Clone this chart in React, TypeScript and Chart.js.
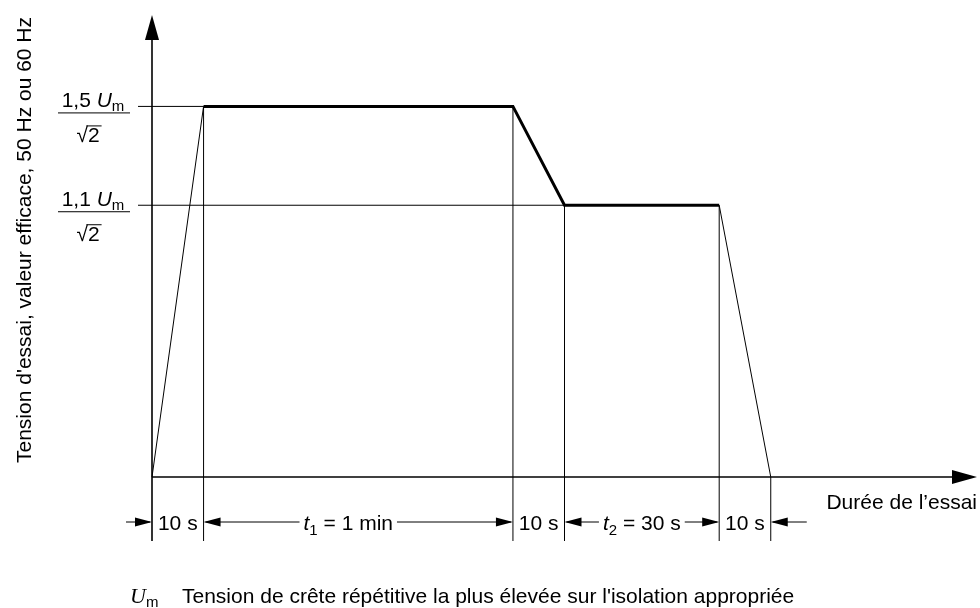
import React, { useEffect, useRef } from "react";
import { Chart, registerables } from "chart.js";

Chart.register(...registerables);

// ---- data (diagram positions in seconds, levels as multiples of Um/√2) ----
const times = [0, 10, 70, 80, 110, 120];
const levels = [0, 1.5, 1.5, 1.1, 1.1, 0];
const levelTicks = [1.5, 1.1];
const levelTickLabels = ["1,5", "1,1"];
const spanVar = ["", "t", "", "t", ""];
const spanSub = ["", "1", "", "2", ""];
const spanText = ["10 s", " = 1 min", "10 s", " = 30 s", "10 s"];
const yAxisTitle = "Tension d'essai, valeur efficace, 50 Hz ou 60 Hz";
const xAxisTitle = "Durée de l\u2019essai";
const footnoteSymbol = "U";
const footnoteSub = "m";
const footnoteText = "Tension de crête répétitive la plus élevée sur l'isolation appropriée";

const SANS = '"Liberation Sans", Arial, Helvetica, sans-serif';
const SERIF = '"Liberation Serif", "Times New Roman", serif';

type Run = { text: string; font: string; dy?: number };

function drawRuns(ctx: CanvasRenderingContext2D, runs: Run[], x: number, y: number, align: "left" | "center" | "right") {
  let total = 0;
  const widths = runs.map((r) => {
    ctx.font = r.font;
    const w = ctx.measureText(r.text).width;
    total += w;
    return w;
  });
  let cx = align === "left" ? x : align === "center" ? x - total / 2 : x - total;
  const start = cx;
  ctx.textAlign = "left";
  ctx.textBaseline = "alphabetic";
  runs.forEach((r, i) => {
    ctx.font = r.font;
    ctx.fillText(r.text, cx, y + (r.dy || 0));
    cx += widths[i];
  });
  return { start, end: cx, widths };
}

function line(ctx: CanvasRenderingContext2D, x1: number, y1: number, x2: number, y2: number) {
  ctx.beginPath();
  ctx.moveTo(x1, y1);
  ctx.lineTo(x2, y2);
  ctx.stroke();
}

function arrowhead(ctx: CanvasRenderingContext2D, tx: number, ty: number, dx: number, dy: number, len: number, hw: number) {
  const bx = tx - dx * len;
  const by = ty - dy * len;
  const px = -dy, py = dx;
  ctx.beginPath();
  ctx.moveTo(tx, ty);
  ctx.lineTo(bx + px * hw, by + py * hw);
  ctx.lineTo(bx - px * hw, by - py * hw);
  ctx.closePath();
  ctx.fill();
}

const spanTextShift = [0, -10, 0, 0, 0];

const diagramPlugin = {
  id: "diagram",
  afterDraw(chart: any) {
    const ctx: CanvasRenderingContext2D = chart.ctx;
    const xs = chart.scales.x;
    const ys = chart.scales.y;
    const X = (v: number) => xs.getPixelForValue(v);
    const Y = (v: number) => ys.getPixelForValue(v);
    const area = chart.chartArea;
    const x0 = X(0);
    const yBase = Y(0);
    const dimY = yBase + 45;
    const extBottom = yBase + 64;

    ctx.save();
    ctx.strokeStyle = "#000";
    ctx.fillStyle = "#000";

    // axes with arrows
    ctx.lineWidth = 1.6;
    line(ctx, x0, extBottom, x0, area.top + 22);
    arrowhead(ctx, x0, area.top, 0, -1, 25, 7);
    line(ctx, x0, yBase, area.right - 22, yBase);
    arrowhead(ctx, area.right, yBase, 1, 0, 25, 7);

    // reference lines for levels
    ctx.lineWidth = 1;
    levelTicks.forEach((lv) => {
      const idx = levels.findIndex((l) => l === lv);
      line(ctx, x0 - 14, Y(lv), X(times[idx]), Y(lv));
    });

    // vertical extension lines
    times.forEach((t, i) => {
      if (i === 0) return;
      line(ctx, X(t), Y(levels[i]), X(t), extBottom);
    });

    // dimension row
    const AL = 17, AW = 4.5;
    const textFont = `21px ${SANS}`;
    const italFont = `italic 21px ${SANS}`;
    const subFont = `15px ${SANS}`;
    for (let i = 0; i < times.length - 1; i++) {
      const a = X(times[i]);
      const b = X(times[i + 1]);
      const runs: Run[] = [];
      if (spanVar[i]) runs.push({ text: spanVar[i], font: italFont });
      if (spanSub[i]) runs.push({ text: spanSub[i], font: subFont, dy: 5 });
      runs.push({ text: spanText[i], font: textFont });
      const r = drawRuns(ctx, runs, (a + b) / 2 + spanTextShift[i], dimY + 7.5, "center");
      if (spanVar[i]) {
        line(ctx, a + 2, dimY, r.start - 4, dimY);
        line(ctx, r.end + 4, dimY, b - 2, dimY);
        arrowhead(ctx, a, dimY, -1, 0, AL, AW);
        arrowhead(ctx, b, dimY, 1, 0, AL, AW);
      }
      if (i === 0) {
        line(ctx, a - 26, dimY, a - 2, dimY);
        arrowhead(ctx, a, dimY, 1, 0, AL, AW);
      }
      if (i === times.length - 2) {
        line(ctx, b + 2, dimY, b + 36, dimY);
        arrowhead(ctx, b, dimY, -1, 0, AL, AW);
      }
    }

    // level labels (fractions)
    levelTicks.forEach((lv, k) => {
      const y = Y(lv);
      const cx = x0 - 59;
      drawRuns(
        ctx,
        [
          { text: levelTickLabels[k] + " ", font: textFont },
          { text: "U", font: italFont },
          { text: "m", font: subFont, dy: 4 },
        ],
        cx,
        y + 1,
        "center"
      );
      ctx.lineWidth = 1;
      line(ctx, x0 - 94, y + 6.5, x0 - 22, y + 6.5);
      const r = drawRuns(
        ctx,
        [
          { text: "\u221A", font: textFont },
          { text: "2", font: textFont },
        ],
        cx - 5,
        y + 36,
        "center"
      );
      ctx.font = textFont;
      const asc = ctx.measureText("\u221A").actualBoundingBoxAscent;
      const ov = y + 36 - asc + 0.5;
      line(ctx, r.start + r.widths[0] - 1.5, ov, r.end + 2, ov);
    });

    // y axis title
    ctx.save();
    ctx.translate(31, 240);
    ctx.rotate(-Math.PI / 2);
    ctx.font = textFont;
    ctx.textAlign = "center";
    ctx.textBaseline = "alphabetic";
    ctx.fillText(yAxisTitle, 0, 0);
    ctx.restore();

    // x axis title
    ctx.font = textFont;
    ctx.textAlign = "right";
    ctx.textBaseline = "alphabetic";
    ctx.fillText(xAxisTitle, area.right, yBase + 32);

    // footnote
    drawRuns(
      ctx,
      [
        { text: footnoteSymbol, font: `italic 22px ${SERIF}` },
        { text: footnoteSub, font: subFont, dy: 4 },
      ],
      130,
      603,
      "left"
    );
    ctx.font = textFont;
    ctx.textAlign = "left";
    ctx.fillText(footnoteText, 182, 603);

    ctx.restore();
  },
};

export default function App() {
  const ref = useRef<HTMLCanvasElement | null>(null);

  useEffect(() => {
    if (!ref.current) return;
    const points = times.map((t, i) => ({ x: t, y: levels[i] }));
    const chart = new Chart(ref.current, {
      type: "scatter",
      data: {
        datasets: [
          {
            label: "Tension d'essai",
            data: points,
            showLine: true,
            borderColor: "#000",
            backgroundColor: "#000",
            borderWidth: 1,
            pointRadius: 0,
            clip: false,
            borderJoinStyle: "miter",
            segment: {
              borderWidth: (c: any) => (c.p0.parsed.y > 0 && c.p1.parsed.y > 0 ? 3 : 1),
            },
          } as any,
        ],
      },
      options: {
        animation: false,
        responsive: false,
        maintainAspectRatio: false,
        events: [],
        layout: { padding: { left: 152, right: 3, top: 15, bottom: 131 } },
        plugins: { legend: { display: false }, tooltip: { enabled: false }, title: { display: false } },
        scales: {
          x: { type: "linear", display: false, min: 0, max: 160 },
          y: { type: "linear", display: false, min: 0, max: 1.87 },
        },
      },
      plugins: [diagramPlugin],
    });
    return () => chart.destroy();
  }, []);

  return (
    <div style={{ position: "absolute", left: 0, top: 0, width: 980, height: 608, background: "#fff" }}>
      <canvas ref={ref} width={980} height={608} style={{ width: 980, height: 608, display: "block" }} />
    </div>
  );
}
